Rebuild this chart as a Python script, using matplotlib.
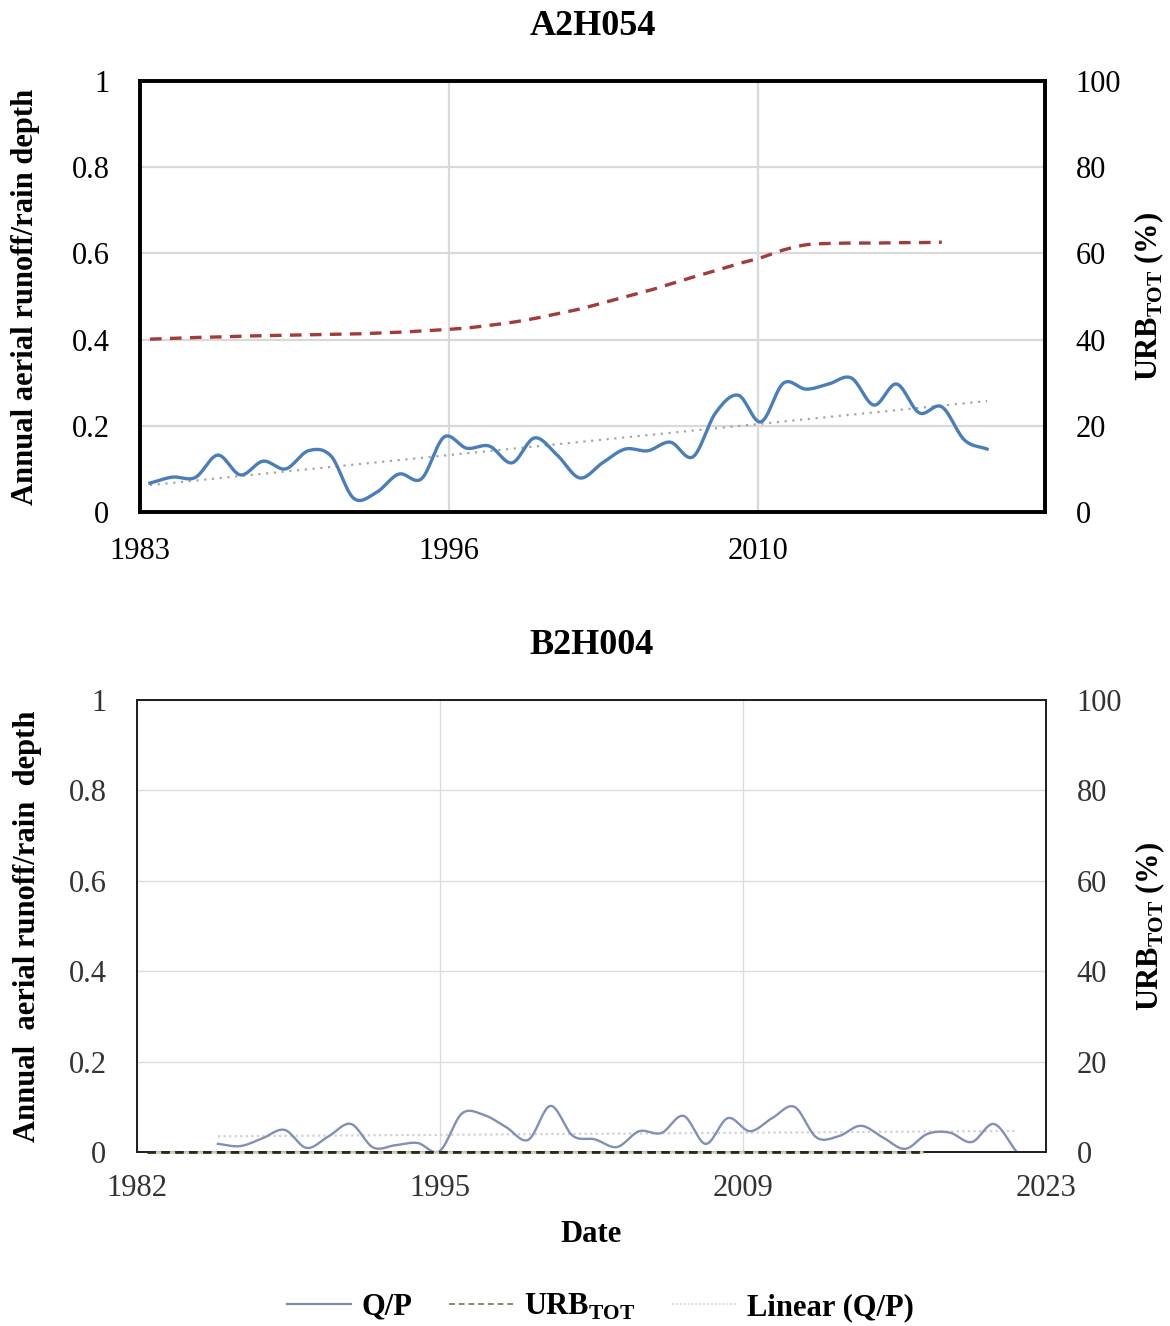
import numpy as np
import matplotlib
matplotlib.use("Agg")
import matplotlib.pyplot as plt
from matplotlib.lines import Line2D

plt.rcParams['font.family'] = ['Liberation Serif', 'DejaVu Serif']
plt.rcParams['mathtext.fontset'] = 'custom'
plt.rcParams['mathtext.rm'] = 'Liberation Serif'
plt.rcParams['mathtext.bf'] = 'Liberation Serif:bold'

# --- A2H054 (top) ---
top_years = np.arange(1983, 2021)
top_qp = [0.067, 0.081, 0.080, 0.132, 0.086, 0.118, 0.100, 0.142, 0.130, 0.032,
          0.045, 0.088, 0.077, 0.174, 0.148, 0.153, 0.114, 0.172, 0.132, 0.079,
          0.114, 0.146, 0.142, 0.162, 0.128, 0.230, 0.271, 0.209, 0.299, 0.285,
          0.297, 0.311, 0.248, 0.297, 0.230, 0.244, 0.167, 0.146]
top_urb_years = np.arange(1983, 2019)
top_urb = [40.1, 40.3, 40.5, 40.6, 40.8, 40.9, 41.0, 41.1, 41.2, 41.3,
           41.5, 41.7, 42.0, 42.3, 42.7, 43.3, 44.0, 44.9, 46.0, 47.1,
           48.5, 49.9, 51.3, 52.9, 54.5, 56.0, 57.6, 59.0, 60.8, 62.0,
           62.3, 62.4, 62.4, 62.5, 62.5, 62.6]
top_ticklabels = ['1983', '1996', '2010']

# --- B2H004 (bottom) ---
bot_years = np.arange(1985, 2022)
bot_qp = [0.018, 0.013, 0.030, 0.049, 0.009, 0.035, 0.062, 0.010, 0.015, 0.020,
          0.002, 0.085, 0.082, 0.055, 0.027, 0.102, 0.036, 0.028, 0.011, 0.046,
          0.042, 0.080, 0.018, 0.075, 0.046, 0.075, 0.100, 0.032, 0.035, 0.058,
          0.032, 0.007, 0.040, 0.043, 0.022, 0.062, 0.002]
bot_urb_years = np.arange(1982, 2018)
bot_urb = [0.0] * len(bot_urb_years)
bot_ticklabels = ['1982', '1995', '2009', '2023']

yticks = [0, 0.2, 0.4, 0.6, 0.8, 1]
yticklabels = ['0', '0.2', '0.4', '0.6', '0.8', '1']
y2ticks = [0, 20, 40, 60, 80, 100]

top_offset = 0.44   # hydrological-year position within the calendar year
bot_offset = 0.65


def smooth(x, y, n=16):
    # Catmull-Rom style smoothing like Excel's "smoothed line"
    x = np.asarray(x, float)
    y = np.asarray(y, float)
    px = np.concatenate([[2 * x[0] - x[1]], x, [2 * x[-1] - x[-2]]])
    py = np.concatenate([[2 * y[0] - y[1]], y, [2 * y[-1] - y[-2]]])
    t = np.linspace(0, 1, n, endpoint=False)
    xs, ys = [], []
    for i in range(1, len(px) - 2):
        for p, out in ((px, xs), (py, ys)):
            p0, p1, p2, p3 = p[i - 1], p[i], p[i + 1], p[i + 2]
            out.extend(0.5 * (2 * p1 + (-p0 + p2) * t
                              + (2 * p0 - 5 * p1 + 4 * p2 - p3) * t ** 2
                              + (-p0 + 3 * p1 - 3 * p2 + p3) * t ** 3))
    xs.append(x[-1])
    ys.append(y[-1])
    return np.array(xs), np.array(ys)


fig = plt.figure(figsize=(11.7, 13.26), dpi=100)

# ---------------- top chart ----------------
ax1 = fig.add_axes([140 / 1170, 1 - 512 / 1326, 905 / 1170, 431 / 1326])
ax1b = ax1.twinx()

tx = top_years + top_offset
sx, sy = smooth(tx, top_qp)
ax1.plot(sx, sy, color='#4a7ebb', lw=2.4, zorder=4)
coef = np.polyfit(tx, top_qp, 1)
ax1.plot(tx[[0, -1]], np.polyval(coef, tx[[0, -1]]), color='#a6a6a6', lw=1.6,
         linestyle=(0, (1, 2.5)), zorder=3)
ux, uy = smooth(top_urb_years + top_offset, top_urb)
ax1b.plot(ux, uy, color='#a03c3a', lw=2.4, linestyle=(0, (3.5, 2.5)), zorder=4)

ax1.set_xlim(1983, 2023)
ax1.set_xticks(1983 + 41 / 3 * np.arange(3))
ax1.set_xticklabels(top_ticklabels)
ax1.set_ylim(0, 1)
ax1.set_yticks(yticks)
ax1.set_yticklabels(yticklabels)
ax1b.set_ylim(0, 100)
ax1b.set_yticks(y2ticks)
ax1.grid(True, color='#d9d9d9', lw=1.6)
ax1.set_axisbelow(True)
for ax in (ax1, ax1b):
    for sp in ax.spines.values():
        sp.set_linewidth(2.6)
        sp.set_color('black')
ax1.tick_params(axis='y', length=0, pad=22, labelsize=22)
ax1.tick_params(axis='x', length=0, pad=18, labelsize=22)
ax1b.tick_params(axis='y', length=0, pad=22, labelsize=22)
ax1.set_title('A2H054', fontsize=26, fontweight='bold', pad=33)
ax1.set_ylabel('Annual aerial runoff/rain depth', fontsize=22, fontweight='bold')
ax1.yaxis.set_label_coords(-0.110, 0.5)
ax1b.set_ylabel(r'URB$_{\mathbf{TOT}}$ (%)', fontsize=22, fontweight='bold')
ax1b.yaxis.set_label_coords(1.097, 0.5)

# ---------------- bottom chart ----------------
ax2 = fig.add_axes([137 / 1170, 1 - 1152 / 1326, 909 / 1170, 452 / 1326])
ax2b = ax2.twinx()

bx = bot_years + bot_offset
sx, sy = smooth(bx, bot_qp)
ax2.plot(sx, sy, color='#8090b6', lw=1.7, zorder=4)
coef2 = np.polyfit(bx, bot_qp, 1)
ax2.plot(bx[[0, -1]], np.polyval(coef2, bx[[0, -1]]), color='#d0d0d0', lw=1.6,
         linestyle=(0, (1, 1.5)), zorder=3)
ax2b.plot(bot_urb_years + 0.45, bot_urb, color='#2a2a22', gapcolor='#d8d2b0',
          lw=2.0, linestyle=(0, (3, 2)), zorder=5, clip_on=False)

ax2.set_xlim(1982, 2023)
ax2.set_xticks(np.linspace(1982, 2023, 4))
ax2.set_xticklabels(bot_ticklabels)
ax2.set_ylim(0, 1)
ax2.set_yticks(yticks)
ax2.set_yticklabels(yticklabels)
ax2b.set_ylim(0, 100)
ax2b.set_yticks(y2ticks)
ax2.grid(True, color='#dcdcdc', lw=1.0)
ax2.set_axisbelow(True)
for ax in (ax2, ax2b):
    for sp in ax.spines.values():
        sp.set_linewidth(1.4)
        sp.set_color('#222222')
ax2.tick_params(axis='y', length=0, pad=22, labelsize=22, labelcolor='#333333')
ax2.tick_params(axis='x', length=0, pad=16, labelsize=22, labelcolor='#333333')
ax2b.tick_params(axis='y', length=0, pad=22, labelsize=22, labelcolor='#333333')
ax2.set_title('B2H004', fontsize=26, fontweight='bold', pad=33)
ax2.set_ylabel('Annual  aerial runoff/rain  depth', fontsize=22, fontweight='bold')
ax2.yaxis.set_label_coords(-0.104, 0.5)
ax2b.set_ylabel(r'URB$_{\mathbf{TOT}}$ (%)', fontsize=22, fontweight='bold')
ax2b.yaxis.set_label_coords(1.096, 0.5)
ax2.set_xlabel('Date', fontsize=22, fontweight='bold', labelpad=12)

handles = [
    Line2D([], [], color='#7f8aa8', lw=1.6),
    Line2D([], [], color='#8a876c', lw=1.4, linestyle=(0, (3, 2))),
    Line2D([], [], color='#dddddd', lw=1.4, linestyle=(0, (1, 1))),
]
labels = ['Q/P', r'URB$_{\mathbf{TOT}}$', 'Linear (Q/P)']
fig.legend(handles, labels, loc='center', bbox_to_anchor=(0.513, 1 - 1307 / 1326),
           ncol=3, frameon=False, handlelength=2.1, handletextpad=0.35,
           columnspacing=1.2,
           prop={'family': 'Liberation Serif', 'weight': 'bold', 'size': 22})

fig.savefig('out.png', dpi=100)
